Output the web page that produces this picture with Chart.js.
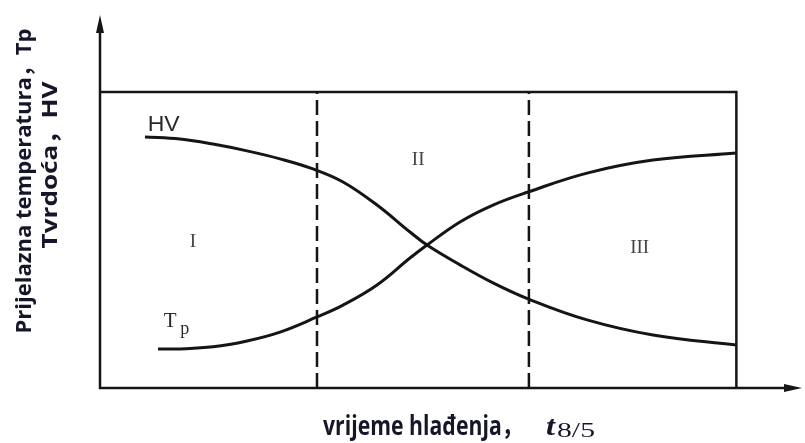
<!DOCTYPE html>
<html>
<head>
<meta charset="utf-8">
<script src="https://cdn.jsdelivr.net/npm/chart.js@4"></script>
<style>
  body { margin: 0; background: #fff; }
  canvas { display: block; }
</style>
</head>
<body>
<canvas id="chartCanvas" width="805" height="443"></canvas>
<script>
// cooling time t8/5 (relative units, box ends at 100)
const hvTime   = [7.07, 12.57, 17.76, 23.10, 28.29, 33.47, 38.19, 43.53, 48.71, 51.39, 56.57, 61.76, 67.26, 76.53, 86.90, 100];
const hvValues = [84.8, 84.1, 82.4, 80.1, 77.4, 74.0, 69.6, 61.8, 52.7, 48.3, 41.6, 35.5, 30.1, 23.0, 17.9, 14.5];
const tpTime   = [9.11, 12.57, 17.76, 23.10, 28.29, 34.10, 38.19, 43.53, 48.71, 51.39, 56.57, 61.76, 67.26, 76.53, 86.90, 100];
const tpValues = [13.2, 13.2, 13.9, 15.9, 18.9, 24.0, 28.0, 34.8, 43.9, 48.3, 56.1, 61.8, 66.2, 72.6, 77.0, 79.4];
const zoneBounds = [34.1, 67.4];
const zoneLabels = ['I', 'II', 'III'];
const boxTop = 100;
const boxRight = 100;

const ink = '#151515';
const ctx = document.getElementById('chartCanvas').getContext('2d');

function pts(xs, ys) {
    return xs.map((x, i) => ({ x: x, y: ys[i] }));
}

// text drawn with its own width/height stretch (the source picture is stretched)
function stretchText(c, text, x, y, targetW, sy) {
    const w = c.measureText(text).width;
    c.save();
    c.translate(x, y);
    c.scale(targetW / w, sy || 1);
    c.fillText(text, 0, 0);
    c.restore();
}

const decor = {
    id: 'decor',
    afterDatasetsDraw: (chart) => {
        const c = chart.ctx;
        const a = chart.chartArea;
        const xs = chart.scales.x;
        const ys = chart.scales.y;
        c.save();
        // axes with arrows
        c.strokeStyle = ink;
        c.fillStyle = ink;
        c.lineWidth = 2.5;
        c.beginPath();
        c.moveTo(a.left, a.top + 10);
        c.lineTo(a.left, a.bottom);
        c.lineTo(a.right - 10, a.bottom);
        c.stroke();
        c.beginPath();
        c.moveTo(a.left, a.top);
        c.lineTo(a.left - 4, a.top + 18);
        c.lineTo(a.left + 4, a.top + 18);
        c.closePath();
        c.fill();
        c.beginPath();
        c.moveTo(a.right + 2, a.bottom);
        c.lineTo(a.right - 16, a.bottom - 4);
        c.lineTo(a.right - 16, a.bottom + 4);
        c.closePath();
        c.fill();

        // zone labels
        c.fillStyle = '#444';
        c.textAlign = 'center';
        c.textBaseline = 'alphabetic';
        c.font = '19px "Liberation Serif"';
        const zonePos = [[14.6, 47.6], [50, 75.3], [84.8, 45.6]];
        zoneLabels.forEach((t, i) => {
            c.fillText(t, xs.getPixelForValue(zonePos[i][0]), ys.getPixelForValue(zonePos[i][1]));
        });

        // curve labels
        c.fillStyle = '#2a2a2a';
        c.textAlign = 'left';
        c.font = '21px "Liberation Sans"';
        stretchText(c, 'HV', xs.getPixelForValue(7.5), ys.getPixelForValue(86.8), 32, 1.05);
        c.font = '21px "Liberation Serif"';
        c.fillText('T', xs.getPixelForValue(10.0), ys.getPixelForValue(20.6));
        c.font = '18px "Liberation Serif"';
        c.fillText('p', xs.getPixelForValue(12.6), ys.getPixelForValue(18.4));

        // y title, two rotated lines
        c.fillStyle = '#16162a';
        c.textAlign = 'center';
        c.font = 'bold 22px "Open Sans", "Noto Sans CJK SC"';
        c.save();
        c.translate(31, 181);
        c.rotate(-Math.PI / 2);
        stretchText(c, 'Prijelazna temperatura，Tp', 0, 0, 305, 1);
        c.restore();
        c.save();
        c.translate(57, 165);
        c.rotate(-Math.PI / 2);
        stretchText(c, 'Tvrdoća，HV', 0, 0, 167, 1);
        c.restore();

        // x title
        c.textAlign = 'left';
        c.font = 'bold 22px "Open Sans", "Noto Sans CJK SC"';
        stretchText(c, 'vrijeme hlađenja，', 323, 435, 200, 1.2);
        c.font = 'italic bold 22px "Liberation Serif"';
        stretchText(c, 't', 546, 435, 9, 1.2);
        c.font = '20px "Liberation Serif"';
        stretchText(c, '8/5', 557, 437, 38, 1.1);
        c.restore();
    }
};

const lineStyle = {
    borderColor: ink,
    borderWidth: 3,
    pointRadius: 0,
    fill: false
};

new Chart(ctx, {
    type: 'line',
    data: {
        datasets: [
            Object.assign({ label: 'HV', data: pts(hvTime, hvValues), tension: 0.4 }, lineStyle),
            Object.assign({ label: 'Tp', data: pts(tpTime, tpValues), tension: 0.4 }, lineStyle),
            Object.assign({ label: 'box', data: pts([0, boxRight, boxRight], [boxTop, boxTop, 0]) }, lineStyle, { borderWidth: 2.5 }),
            Object.assign({ label: 'z1', data: pts([zoneBounds[0], zoneBounds[0]], [0, boxTop]), borderDash: [15, 6] }, lineStyle, { borderWidth: 2.5 }),
            Object.assign({ label: 'z2', data: pts([zoneBounds[1], zoneBounds[1]], [0, boxTop]), borderDash: [15, 6] }, lineStyle, { borderWidth: 2.5 })
        ]
    },
    options: {
        responsive: false,
        animation: false,
        layout: {
            padding: { left: 100, right: 5, top: 15, bottom: 55 }
        },
        plugins: {
            legend: { display: false },
            tooltip: { enabled: false }
        },
        scales: {
            x: { type: 'linear', min: 0, max: 110, display: false },
            y: { type: 'linear', min: 0, max: 126, display: false }
        }
    },
    plugins: [decor]
});
</script>
</body>
</html>
